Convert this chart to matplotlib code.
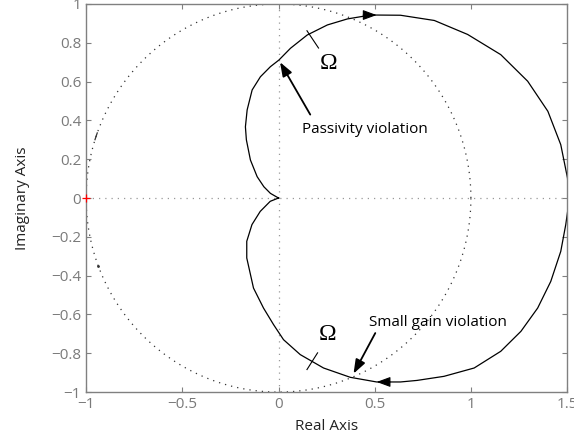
import numpy as np
import matplotlib.pyplot as plt

# Nyquist curve (clockwise: origin -> top -> right -> bottom -> origin)
up_x = [0.0, -0.042, -0.076, -0.111, -0.146, -0.167, -0.172, -0.163, -0.137, -0.094, -0.042,
        0.002, 0.0625, 0.149, 0.254, 0.358, 0.479, 0.51, 0.634, 0.81, 0.983, 1.155, 1.295,
        1.40, 1.467, 1.502, 1.51]
up_y = [0.0, 0.024, 0.058, 0.11, 0.196, 0.30, 0.367, 0.454, 0.557, 0.625, 0.677,
        0.711, 0.772, 0.84, 0.892, 0.923, 0.943, 0.943, 0.942, 0.915, 0.843, 0.739, 0.602,
        0.447, 0.275, 0.103, -0.017]
lo_x = [1.51, 1.493, 1.467, 1.415, 1.347, 1.26, 1.155, 1.017, 0.86, 0.72, 0.634, 0.51,
        0.373, 0.234, 0.113, 0.026, -0.026, -0.078, -0.13, -0.165, -0.165, -0.138, -0.095,
        -0.043, 0.0]
lo_y = [-0.017, -0.137, -0.275, -0.43, -0.567, -0.687, -0.79, -0.876, -0.919, -0.94, -0.948,
        -0.948, -0.924, -0.876, -0.807, -0.73, -0.652, -0.567, -0.464, -0.309, -0.223, -0.137,
        -0.069, -0.017, 0.0]

xticks = [-1, -0.5, 0, 0.5, 1, 1.5]
yticks = [-1, -0.8, -0.6, -0.4, -0.2, 0, 0.2, 0.4, 0.6, 0.8, 1]

def lab(v):
    return ('%g' % v).replace('-', '\u2212')

plt.rcParams['font.family'] = ['Open Sans', 'DejaVu Sans']

fig = plt.figure(figsize=(5.74, 4.43), dpi=100)
ax = fig.add_axes([0.150, 0.115, 0.838, 0.876])

# unit circle and axes lines (dotted)
t = np.linspace(0, 2*np.pi, 400)
ax.plot(np.cos(t), np.sin(t), color='#333333', lw=0.9, ls=(0, (1, 4)))
ax.plot([0, 0], [-1, 1], color='#999999', lw=0.9, ls=(0, (1, 4)))
ax.plot([-1, 1.5], [0, 0], color='#999999', lw=0.9, ls=(0, (1, 4)))
# darker bits on the circle
a = np.radians(np.linspace(160.4, 162.5, 10))
ax.plot(np.cos(a), np.sin(a), color='#333333', lw=0.9)
ax.plot(np.cos(np.radians(200.6)), np.sin(np.radians(200.6)), '.', color='#333333', ms=2)

# curve
ax.plot(up_x + lo_x[1:], up_y + lo_y[1:], color='black', lw=0.9)

# direction arrows on the curve
head = '-|>,head_length=0.6,head_width=0.22'
i = 17
ax.annotate('', xy=(up_x[i], up_y[i]), xytext=(up_x[i] - 0.07, up_y[i]),
            arrowprops=dict(arrowstyle=head, color='black', lw=0.8, mutation_scale=14,
                            shrinkA=0, shrinkB=0))
j = 11
ax.annotate('', xy=(lo_x[j], lo_y[j]), xytext=(lo_x[j] + 0.07, lo_y[j]),
            arrowprops=dict(arrowstyle=head, color='black', lw=0.8, mutation_scale=14,
                            shrinkA=0, shrinkB=0))

# critical point
ax.plot([-1], [0], '+', color='red', ms=6, mew=0.9, clip_on=False, zorder=5)

# Omega marks
ax.plot([0.148, 0.208], [0.862, 0.773], color='black', lw=0.8)
ax.plot([0.148, 0.203], [-0.884, -0.798], color='black', lw=0.8)
ax.text(0.26, 0.695, '\u03a9', fontsize=17, family='Liberation Serif', ha='center', va='center')
ax.text(0.253, -0.705, '\u03a9', fontsize=17, family='Liberation Serif', ha='center', va='center')

# annotations
ax.text(0.12, 0.353, 'Passivity violation', fontsize=11, ha='left', va='center')
ax.annotate('', xy=(0.008, 0.70), xytext=(0.165, 0.43),
            arrowprops=dict(arrowstyle=head, color='black', lw=1.3, mutation_scale=14,
                            shrinkA=0, shrinkB=0))
ax.text(0.47, -0.64, 'Small gain violation', fontsize=11, ha='left', va='center')
ax.annotate('', xy=(0.39, -0.905), xytext=(0.503, -0.696),
            arrowprops=dict(arrowstyle=head, color='black', lw=1.3, mutation_scale=14,
                            shrinkA=0, shrinkB=0))

ax.set_xlim(-1, 1.5)
ax.set_ylim(-1, 1)
ax.set_xticks(xticks)
ax.set_yticks(yticks)
ax.set_xticklabels([lab(v) for v in xticks])
ax.set_yticklabels([lab(v) for v in yticks])
ax.tick_params(direction='in', top=True, right=True, length=3.6, width=0.8,
               colors='#808080', labelsize=11, labelcolor='#7a7a7a')
for s in ax.spines.values():
    s.set_color('#808080')
    s.set_linewidth(1.0)
ax.set_xlabel('Real Axis', fontsize=11, color='#222222', labelpad=5)
ax.set_ylabel('Imaginary Axis', fontsize=11, color='#222222', labelpad=15)

fig.savefig('out.png', dpi=100)
